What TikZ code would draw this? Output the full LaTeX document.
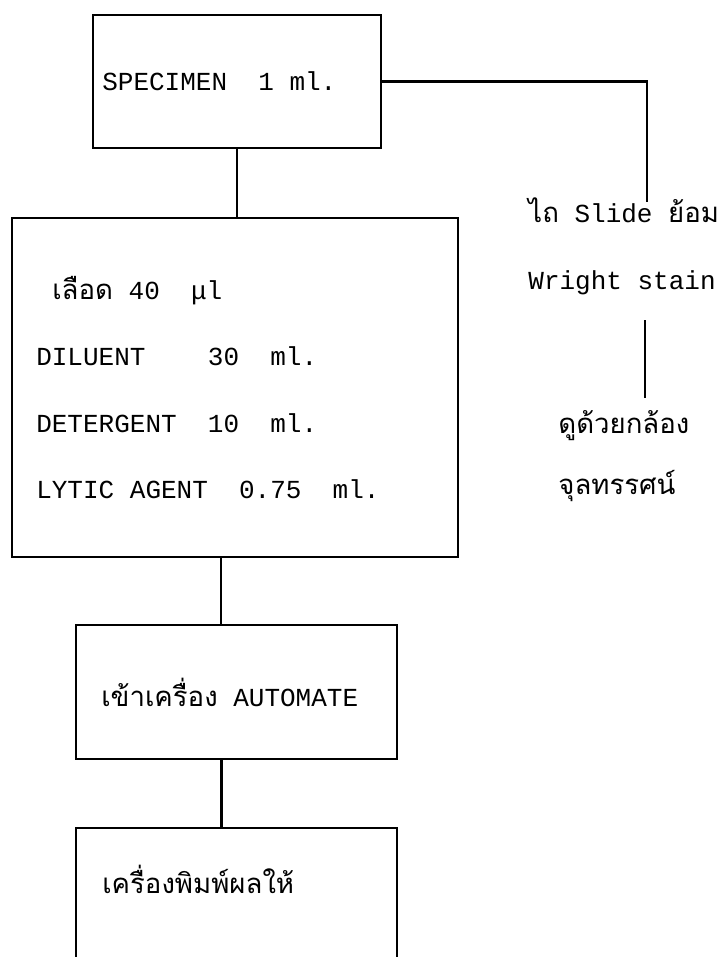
\documentclass[tikz,border=0pt]{standalone}
\usepackage{fontspec}
\newfontfamily\typefont{Liberation Mono}
\newfontfamily\thaifont[Script=Thai, Scale=1.06]{Loma}
\usetikzlibrary{positioning}
\tikzset{
  flowbox/.style={draw, line width=1.1pt, inner sep=0pt},
  boxtext/.style={font=\typefont\fontsize{13pt}{33.3pt}\selectfont, inner sep=0pt, align=left},
  notetext/.style={font=\typefont\fontsize{13pt}{16pt}\selectfont, inner sep=0pt, anchor=west},
  link/.style={line width=1.1pt},
}
\begin{document}
\begin{tikzpicture}[x=0.5pt, y=-0.5pt]
  \fill[white] (0,0) rectangle (720,957);
  \useasboundingbox (0,0) rectangle (720,957);
  % main column
  \node[flowbox, minimum width=144pt, minimum height=66.5pt] (spec) at (237,81.5) {};
  \node[boxtext, right=5pt of spec.west] (spectxt) {SPECIMEN~~1 ml.};
  \node[flowbox, minimum width=223pt, minimum height=169.5pt] (mix) at (235,387.5) {};
  \node[boxtext, right=12.5pt of mix.west] (mixtxt)
    {\hspace*{8pt}{\thaifont เลือด} 40~~μl\\
     DILUENT~~~~30~~ml.\\
     DETERGENT~~10~~ml.\\
     LYTIC AGENT~~0.75~~ml.};
  \node[flowbox, minimum width=160.5pt, minimum height=67pt] (auto) at (236.5,692) {};
  \node[boxtext, right=13pt of auto.west] (autotxt) {{\thaifont เข้าเครื่อง} AUTOMATE};
  \node[flowbox, minimum width=160.5pt, minimum height=81pt] (print) at (236.5,909) {};
  \node[boxtext, anchor=west] (printtxt) at ([xshift=13.5pt, yshift=-26pt]print.north west) {\thaifont เครื่องพิมพ์ผลให้};
  % side branch
  \node[notetext] (slide) at (528,210) {{\thaifont ไถ} Slide {\thaifont ย้อม}};
  \node[notetext] (wright) at (528,283) {Wright stain};
  \node[notetext] (scope1) at (558,426) {\thaifont ดูด้วยกล้อง};
  \node[notetext] (scope2) at (558,486) {\thaifont จุลทรรศน์};
  \coordinate (slidetop) at (647,202);
  \coordinate (stainlink) at (645,320);
  \coordinate (scopetop) at (645,398);
  % connectors
  \draw[link] (spec.south) -- (spec.south |- mix.north);
  \draw[link] ([xshift=-7pt]mix.south) -- ([xshift=-7pt]mix.south |- auto.north);
  \draw[link] ([xshift=-7.5pt]auto.south) -- ([xshift=-7.5pt]auto.south |- print.north);
  \draw[link] (spec.east) -| (slidetop);
  \draw[link] (stainlink) -- (scopetop);
\end{tikzpicture}
\end{document}
